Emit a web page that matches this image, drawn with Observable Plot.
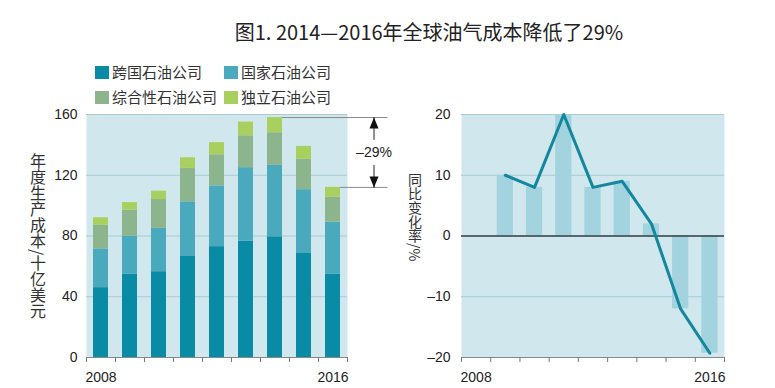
<!DOCTYPE html>
<html><head><meta charset="utf-8">
<script src="https://cdn.jsdelivr.net/npm/d3@7"></script>
<script src="https://cdn.jsdelivr.net/npm/@observablehq/plot@0.6"></script>
<style>
body{margin:0;background:#fff;}
#root{position:relative;width:775px;height:388px;overflow:hidden;font-family:"Noto Sans CJK SC","Noto Sans",sans-serif;color:#222;}
#title{position:absolute;left:179px;width:500px;text-align:center;top:18px;font-size:20px;line-height:28px;white-space:nowrap;}
.leg{position:absolute;font-size:15px;line-height:18px;white-space:nowrap;color:#333;}
.leg span.sw{display:inline-block;width:14px;height:13px;vertical-align:-1px;margin-right:3px;}
.vlab{position:absolute;writing-mode:vertical-rl;line-height:1;color:#333;white-space:nowrap;}
#left{position:absolute;left:0;top:100px;}
#right{position:absolute;left:400px;top:100px;}
</style></head>
<body><div id="root">
<div id="title"></div>
<div id="legend"></div>
<div id="left"></div>
<div id="right"></div>
<div class="vlab" id="ylabL" style="left:30px;top:153px;font-size:16px;"></div>
<div class="vlab" id="ylabR" style="left:408px;top:173px;font-size:14px;"></div>
</div>
<script>
// ---- data ----
const titleText = "图1. 2014—2016年全球油气成本降低了29%";
const years = [2008, 2009, 2010, 2011, 2012, 2013, 2014, 2015, 2016];
const companies = ["跨国石油公司", "国家石油公司", "综合性石油公司", "独立石油公司"];
const mnc =         [46, 55, 56.5, 66.5, 73, 76.5, 79.5, 68.5, 55];
const noc =         [25.5, 25, 28.5, 36, 40, 48.5, 47, 42, 34];
const integrated =  [15.5, 17, 19, 22, 20.5, 21, 21.5, 20, 16.5];
const independent = [5, 5, 5.5, 7, 8, 9, 10, 8.5, 6.5];
const changeYears = [2009, 2010, 2011, 2012, 2013, 2014, 2015, 2016];
const changePct =   [10, 8, 20, 8, 9, 2, -12, -19.3];
const yTicksLeft = [0, 40, 80, 120, 160];
const yTicksRight = [-20, -10, 0, 10, 20];
const xLabelYears = [2008, 2016];
const yLabelLeft = "年度生产成本/十亿美元";
const yLabelRight = "同比变化率/%";
const annotFrom = 2014, annotTo = 2016, annotLabel = "–29%";

// ---- styles ----
const colors = ["#0a8ba5", "#4aa9bd", "#8cb58e", "#a9d05f"];
const bgFill = "#cfe7ed";
const gridStroke = "#a9cbd4";
const axisFont = {fontFamily: "'Liberation Sans', Arial, sans-serif", fontSize: "14px", color: "#222", background: "transparent", overflow: "visible"};

// ---- derived tables ----
const series = [mnc, noc, integrated, independent];
const costData = [];
years.forEach((yr, i) => companies.forEach((c, k) => costData.push({year: yr, company: c, value: series[k][i]})));
const totals = years.map((_, i) => series.reduce((s, arr) => s + arr[i], 0));
const changeData = changeYears.map((yr, i) => ({year: yr, value: changePct[i]}));
const boundaries = d3.range(years[0] - 0.5, years[years.length - 1] + 1, 1);
const xDomain = [years[0] - 0.5, years[years.length - 1] + 0.5];
const fmt = d => d < 0 ? "–" + Math.abs(d) : String(d);

// ---- title, legend, labels ----
document.getElementById("title").textContent = titleText;
const legPos = [[95, 63], [224, 63], [95, 88], [224, 88]];
const leg = d3.select("#legend");
companies.forEach((c, k) => {
  const d = leg.append("div").attr("class", "leg").style("left", legPos[k][0] + "px").style("top", legPos[k][1] + "px");
  d.append("span").attr("class", "sw").style("background", colors[k]);
  d.append("span").text(c);
});
document.getElementById("ylabL").textContent = yLabelLeft;
document.getElementById("ylabR").textContent = yLabelRight;

// ---- annotation ----
const iFrom = years.indexOf(annotFrom), iTo = years.indexOf(annotTo);
const topV = totals[iFrom], botV = totals[iTo], midV = (topV + botV) / 2;
const arrowHead = {draw(ctx) { ctx.moveTo(0, 0); ctx.lineTo(-4.5, 11); ctx.lineTo(4.5, 11); ctx.closePath(); }};

const left = Plot.plot({
  width: 400, height: 288, marginTop: 14, marginBottom: 31, marginLeft: 86, marginRight: 53,
  x: {type: "linear", domain: xDomain},
  y: {domain: [0, 160]},
  color: {domain: companies, range: colors},
  style: axisFont,
  marks: [
    Plot.frame({fill: bgFill, stroke: "none"}),
    Plot.gridY({ticks: [40, 80, 120, 160], stroke: gridStroke, strokeOpacity: 1}),
    Plot.rectY(costData, {x1: d => d.year - 0.5, x2: d => d.year + 0.5, y: "value", fill: "company", insetLeft: 7, insetRight: 7}),
    Plot.ruleY([0], {stroke: "#888"}),
    Plot.axisY({ticks: yTicksLeft, tickSize: 0, tickPadding: 9, label: null, tickFormat: fmt}),
    Plot.axisX({ticks: boundaries, tickSize: 5, tickFormat: () => "", stroke: "#777", label: null}),
    Plot.axisX({ticks: xLabelYears, tickSize: 0, tickPadding: 15, tickFormat: d => String(d), label: null}),
    Plot.ruleY([{y: topV, x1: annotFrom, x2: annotTo}], {y: "y", x1: "x1", x2: "x2", insetLeft: 7.5, insetRight: -55, stroke: "#8a8a8a"}),
    Plot.ruleY([{y: botV, x1: annotTo, x2: annotTo}], {y: "y", x1: "x1", x2: "x2", insetLeft: 7.5, insetRight: -55, stroke: "#8a8a8a"}),
    Plot.arrow([{x: annotTo, y1: midV, y2: topV}, {x: annotTo, y1: midV, y2: botV}], {x1: "x", x2: "x", y1: "y1", y2: "y2", dx: 41, insetStart: 13, headLength: 0, stroke: "#222", strokeWidth: 1}),
    Plot.dot([{x: annotTo, y: topV, r: 0}, {x: annotTo, y: botV, r: 180}], {x: "x", y: "y", rotate: "r", symbol: arrowHead, fill: "#111", stroke: "none", dx: 41, r: 4}),
    Plot.text([{x: annotTo, y: midV, label: annotLabel}], {x: "x", y: "y", text: "label", dx: 41, fontSize: 14, fill: "#222"})
  ]
});
document.getElementById("left").append(left);

const right = Plot.plot({
  width: 375, height: 288, marginTop: 14, marginBottom: 31, marginLeft: 61, marginRight: 51,
  x: {type: "linear", domain: xDomain},
  y: {domain: [-20, 20]},
  style: axisFont,
  marks: [
    Plot.frame({fill: bgFill, stroke: "none"}),
    Plot.gridY({ticks: [-10, 10, 20], stroke: gridStroke, strokeOpacity: 1}),
    Plot.rectY(changeData, {x1: d => d.year - 0.5, x2: d => d.year + 0.5, y: "value", fill: "#a3d3df", insetLeft: 6.5, insetRight: 6.5}),
    Plot.ruleY([-20], {stroke: "#888"}),
    Plot.ruleY([0], {stroke: "#2f3d42", strokeWidth: 1.5}),
    Plot.lineY(changeData, {x: "year", y: "value", stroke: "#12879e", strokeWidth: 3}),
    Plot.axisY({ticks: yTicksRight, tickSize: 0, tickPadding: 11, label: null, tickFormat: fmt}),
    Plot.axisX({ticks: boundaries, tickSize: 5, tickFormat: () => "", stroke: "#777", label: null}),
    Plot.axisX({ticks: xLabelYears, tickSize: 0, tickPadding: 15, tickFormat: d => String(d), label: null})
  ]
});
document.getElementById("right").append(right);
</script>
</body></html>
